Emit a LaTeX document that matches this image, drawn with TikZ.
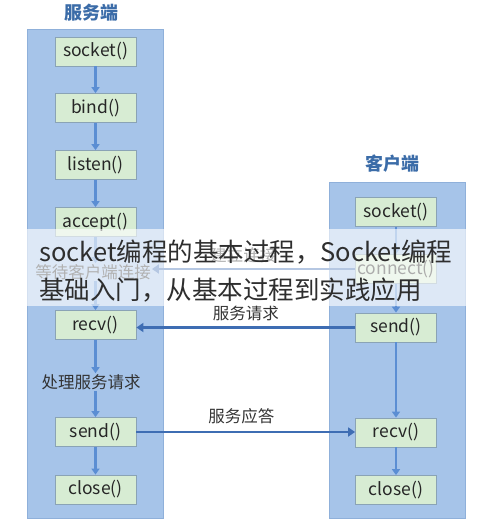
\documentclass[tikz,border=0pt]{standalone}
\usepackage{fontspec}
\setmainfont{Noto Sans CJK SC}
\usetikzlibrary{arrows.meta}
\definecolor{panelfill}{HTML}{A6C4E9}
\definecolor{paneldraw}{HTML}{8FB0DA}
\definecolor{boxfill}{HTML}{D7ECD3}
\definecolor{boxdraw}{HTML}{8AA3B5}
\definecolor{titleblue}{HTML}{3B6CA8}
\definecolor{varrow}{HTML}{5B8ED3}
\definecolor{harrow}{HTML}{3E6DB3}
\definecolor{captext}{HTML}{2E2E2E}
\tikzset{
  panel/.style={fill=panelfill,draw=paneldraw,line width=0.8pt},
  fnbox/.style={draw=boxdraw,fill=boxfill,line width=0.8pt,minimum width=81pt,minimum height=29pt,inner sep=0pt,font=\fontsize{17.5}{19}\selectfont,text=black!85},
  titletext/.style={font=\fontsize{18}{20}\selectfont\bfseries,text=titleblue},
  lbl/.style={font=\fontsize{16.5}{18}\selectfont,text=black!80,inner sep=1pt},
  vflow/.style={draw=varrow,line width=2.4pt,-{Triangle[width=8pt,length=6pt]}},
  hflow/.style={draw=harrow,line width=2.6pt,-{Triangle[width=9pt,length=7pt]}},
  captxt/.style={font=\fontsize{25.5}{28}\selectfont,text=captext,anchor=west,inner sep=0pt},
}
\begin{document}
\begin{tikzpicture}[x=1pt,y=-1pt]
\useasboundingbox (0,0) rectangle (490,522);
% panels
\draw[panel] (27,29) rectangle (163,518);
\draw[panel] (329,182) rectangle (465,518);
% titles
\node[titletext] (st) at (91,13) {服务端};
\node[titletext] (ct) at (392,164) {客户端};
% server boxes
\node[fnbox] (ssock) at (95.5,51.5) {socket()};
\node[fnbox] (sbind) at (95.5,108) {bind()};
\node[fnbox] (slist) at (95.5,165) {listen()};
\node[fnbox] (sacc) at (95.5,222) {accept()};
\node[lbl] (swait) at (93,272) {等待客户端连接};
\node[fnbox] (srecv) at (95.5,325) {recv()};
\node[lbl] (sproc) at (91,382) {处理服务请求};
\node[fnbox] (ssend) at (95.5,432) {send()};
\node[fnbox] (sclose) at (95.5,489.5) {close()};
% client boxes
\node[fnbox] (csock) at (396,212) {socket()};
\node[fnbox] (cconn) at (396,269) {connect()};
\node[fnbox] (csend) at (396,327.5) {send()};
\node[fnbox] (crecv) at (396,432.5) {recv()};
\node[fnbox] (cclose) at (396,490) {close()};
% server vertical flow
\draw[vflow] (ssock) -- (sbind);
\draw[vflow] (sbind) -- (slist);
\draw[vflow] (slist) -- (sacc);
\draw[vflow] (sacc.south) -- (sacc.south |- swait.north);
\draw[vflow] (swait.south -| srecv) -- (srecv.north);
\draw[vflow] (srecv.south) -- (srecv.south |- sproc.north);
\draw[vflow] (sproc.south -| ssend) -- (ssend.north);
\draw[vflow] (ssend) -- (sclose);
% client vertical flow
\draw[vflow] (csock) -- (cconn);
\draw[vflow] (cconn) -- (csend);
\draw[vflow] (csend) -- (crecv);
\draw[vflow] (crecv) -- (cclose);
% horizontal messages
\draw[hflow] (cconn.west) -- (swait.east |- cconn.west) node[lbl,pos=0.55,above=4pt] (lconn) {建立连接};
\draw[hflow] (csend.west) -- (srecv.east |- csend.west) node[lbl,pos=0.5,above=4pt] (lreq) {服务请求};
\draw[hflow] (ssend.east) -- (crecv.west |- ssend.east) node[lbl,pos=0.48,above=6pt] (lresp) {服务应答};
% caption overlay
\fill[white,opacity=0.62] (0,229) rectangle (490,306);
\node[captxt] (cap1) at (39,252) {socket编程的基本过程，Socket编程};
\node[captxt] (cap2) at (39,290) {基础入门，从基本过程到实践应用};
\end{tikzpicture}
\end{document}
